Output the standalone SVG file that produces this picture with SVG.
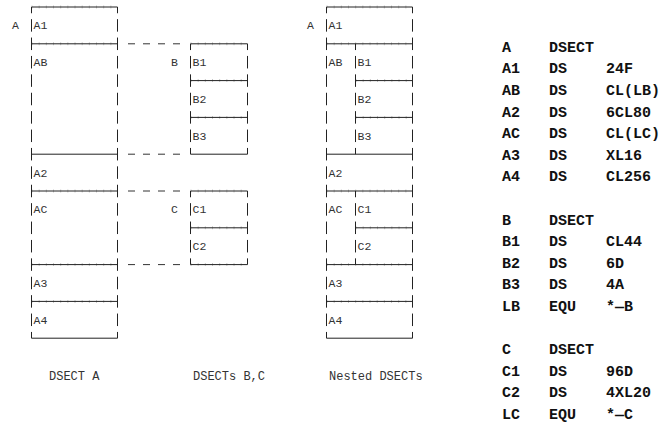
<svg xmlns="http://www.w3.org/2000/svg" width="662" height="423" viewBox="0 0 662 423">
<style>
.hl{stroke:#222;stroke-width:1;fill:none}
.tk{stroke:#c8c8c8;stroke-width:3;stroke-dasharray:1 6.17;fill:none}
.vl{stroke:#222;stroke-width:1;stroke-dasharray:12.5 5.9;stroke-dashoffset:6.25;fill:none}
.cn{stroke:#333;stroke-width:1;stroke-dasharray:7 8;fill:none}
.lb{font-family:"Liberation Mono",monospace;font-size:11.5px;fill:#333}
.cap{font-family:"Liberation Mono",monospace;font-size:12px;fill:#333}
.code{font-family:"Liberation Mono",monospace;font-size:15px;font-weight:bold;fill:#111}
</style>
<rect width="662" height="423" fill="#fff"/>

<g id="dsectA">
  <path class="tk" d="M31.5 7H117.5M31.5 43.8H117.5M31.5 191H117.5M31.5 264.6H117.5M31.5 301.4H117.5"/>
  <path class="hl" d="M31.5 7H117.5M31.5 43.8H117.5M31.5 154.2H117.5M31.5 191H117.5M31.5 264.6H117.5M31.5 301.4H117.5M31.5 338.2H117.5"/>
  <path class="vl" d="M31.5 7V338.2M117.5 7V338.2"/>
  <text class="lb" x="12" y="29.4">A</text>
  <text class="lb" x="33.5" y="29.4">A1</text>
  <text class="lb" x="33.5" y="66.2">AB</text>
  <text class="lb" x="33.5" y="176.6">A2</text>
  <text class="lb" x="33.5" y="213.4">AC</text>
  <text class="lb" x="33.5" y="287">A3</text>
  <text class="lb" x="33.5" y="323.8">A4</text>
</g>

<g id="dsectB">
  <path class="tk" d="M190.5 43.8H247.5M190.5 80.6H247.5M190.5 117.4H247.5"/>
  <path class="hl" d="M190.5 43.8H247.5M190.5 80.6H247.5M190.5 117.4H247.5M190.5 154.2H247.5"/>
  <path class="vl" d="M190.5 43.8V154.2M247.5 43.8V154.2"/>
  <text class="lb" x="171" y="66.2">B</text>
  <text class="lb" x="192.5" y="66.2">B1</text>
  <text class="lb" x="192.5" y="103">B2</text>
  <text class="lb" x="192.5" y="139.8">B3</text>
</g>

<g id="dsectC">
  <path class="tk" d="M190.5 191H247.5M190.5 227.8H247.5M190.5 264.6H247.5"/>
  <path class="hl" d="M190.5 191H247.5M190.5 227.8H247.5M190.5 264.6H247.5"/>
  <path class="vl" d="M190.5 191V264.6M247.5 191V264.6"/>
  <text class="lb" x="171" y="213.4">C</text>
  <text class="lb" x="192.5" y="213.4">C1</text>
  <text class="lb" x="192.5" y="250.2">C2</text>
</g>

<g id="connectors">
  <path class="cn" d="M128 43.8H180M128 154.2H180M128 191H180M128 264.6H180"/>
</g>

<g id="nested">
  <path class="tk" d="M326.5 7H412.5M326.5 43.8H412.5M355.5 80.6H412.5M355.5 117.4H412.5M326.5 191H412.5M355.5 227.8H412.5M326.5 264.6H412.5M326.5 301.4H412.5"/>
  <path class="hl" d="M326.5 7H412.5M326.5 43.8H412.5M355.5 80.6H412.5M355.5 117.4H412.5M326.5 154.2H412.5M326.5 191H412.5M355.5 227.8H412.5M326.5 264.6H412.5M326.5 301.4H412.5M326.5 338.2H412.5"/>
  <path class="vl" d="M326.5 7V338.2M412.5 7V338.2M355.5 43.8V154.2M355.5 191V264.6"/>
  <text class="lb" x="307" y="29.4">A</text>
  <text class="lb" x="328.5" y="29.4">A1</text>
  <text class="lb" x="328.5" y="66.2">AB</text>
  <text class="lb" x="357.5" y="66.2">B1</text>
  <text class="lb" x="357.5" y="103">B2</text>
  <text class="lb" x="357.5" y="139.8">B3</text>
  <text class="lb" x="328.5" y="176.6">A2</text>
  <text class="lb" x="328.5" y="213.4">AC</text>
  <text class="lb" x="357.5" y="213.4">C1</text>
  <text class="lb" x="357.5" y="250.2">C2</text>
  <text class="lb" x="328.5" y="287">A3</text>
  <text class="lb" x="328.5" y="323.8">A4</text>
</g>

<g id="captions">
  <text class="cap" x="49" y="380">DSECT A</text>
  <text class="cap" x="193" y="380">DSECTs B,C</text>
  <text class="cap" x="329" y="380">Nested DSECTs</text>
</g>

<g id="listing" class="code">
  <text x="502" y="51.7">A</text><text x="549" y="51.7">DSECT</text>
  <text x="502" y="73.3">A1</text><text x="549" y="73.3">DS</text><text x="606" y="73.3">24F</text>
  <text x="502" y="94.9">AB</text><text x="549" y="94.9">DS</text><text x="606" y="94.9">CL(LB)</text>
  <text x="502" y="116.5">A2</text><text x="549" y="116.5">DS</text><text x="606" y="116.5">6CL80</text>
  <text x="502" y="138.1">AC</text><text x="549" y="138.1">DS</text><text x="606" y="138.1">CL(LC)</text>
  <text x="502" y="159.7">A3</text><text x="549" y="159.7">DS</text><text x="606" y="159.7">XL16</text>
  <text x="502" y="181.3">A4</text><text x="549" y="181.3">DS</text><text x="606" y="181.3">CL256</text>
  <text x="502" y="224.5">B</text><text x="549" y="224.5">DSECT</text>
  <text x="502" y="246.1">B1</text><text x="549" y="246.1">DS</text><text x="606" y="246.1">CL44</text>
  <text x="502" y="267.7">B2</text><text x="549" y="267.7">DS</text><text x="606" y="267.7">6D</text>
  <text x="502" y="289.3">B3</text><text x="549" y="289.3">DS</text><text x="606" y="289.3">4A</text>
  <text x="502" y="310.9">LB</text><text x="549" y="310.9">EQU</text><text x="606" y="310.9">*—B</text>
  <text x="502" y="354.1">C</text><text x="549" y="354.1">DSECT</text>
  <text x="502" y="375.7">C1</text><text x="549" y="375.7">DS</text><text x="606" y="375.7">96D</text>
  <text x="502" y="397.3">C2</text><text x="549" y="397.3">DS</text><text x="606" y="397.3">4XL20</text>
  <text x="502" y="418.9">LC</text><text x="549" y="418.9">EQU</text><text x="606" y="418.9">*—C</text>
</g>
</svg>
